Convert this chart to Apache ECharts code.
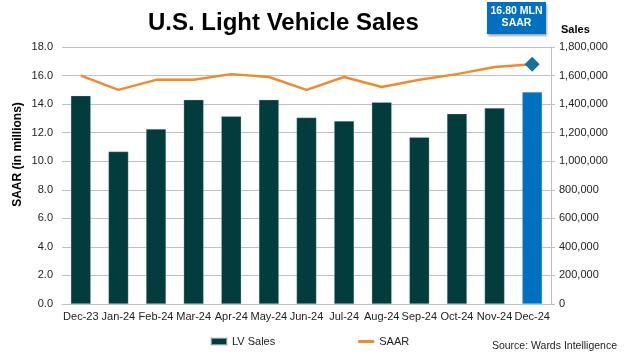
<!DOCTYPE html>
<html>
<head>
<meta charset="utf-8">
<script src="https://cdn.jsdelivr.net/npm/echarts@6/dist/echarts.min.js"></script>
<style>
html,body{margin:0;padding:0;background:#fff;}
#chart{width:637px;height:359px;}
</style>
</head>
<body>
<div id="chart"></div>
<script>
var categories = ['Dec-23','Jan-24','Feb-24','Mar-24','Apr-24','May-24','Jun-24','Jul-24','Aug-24','Sep-24','Oct-24','Nov-24','Dec-24'];
var lvSales = [1459000,1068000,1226000,1431000,1315000,1431000,1306000,1282000,1413000,1168000,1333000,1373000,1485000];
var saar = [16.0,15.0,15.7,15.7,16.1,15.9,15.0,15.9,15.2,15.7,16.1,16.6,16.8];
var leftTicks = [0,2,4,6,8,10,12,14,16,18];
var rightTicks = [0,200000,400000,600000,800000,1000000,1200000,1400000,1600000,1800000];

var FONT = '"Liberation Sans", Arial, sans-serif';
var BAR = '#033c3c';
var HIGHLIGHT = '#0070C0';
var ORANGE = '#f28a2a';
var DIAMOND = '#17719e';

var chart = echarts.init(document.getElementById('chart'));

var barData = lvSales.map(function (v, i) {
  return i === lvSales.length - 1 ? { value: v, itemStyle: { color: HIGHLIGHT } } : v;
});
var lineData = saar.map(function (v, i) {
  return i === saar.length - 1
    ? { value: v, symbol: 'diamond', symbolSize: 15, itemStyle: { color: DIAMOND } }
    : { value: v, symbol: 'none' };
});

chart.setOption({
  animation: false,
  backgroundColor: '#fff',
  textStyle: { fontFamily: FONT },
  title: [
    {
      text: 'U.S. Light Vehicle Sales',
      left: 143, top: 6,
      textStyle: { fontFamily: FONT, fontSize: 24, fontWeight: 'bold', color: '#000' }
    },
    {
      text: 'Source: Wards Intelligence',
      right: 15, top: 336,
      textStyle: { fontFamily: FONT, fontSize: 10.5, fontWeight: 'normal', color: '#222' }
    }
  ],
  graphic: [
    {
      type: 'rect',
      shape: { x: 487, y: 2, width: 59, height: 32 },
      style: { fill: HIGHLIGHT, shadowColor: 'rgba(0,0,0,0.35)', shadowBlur: 2, shadowOffsetX: 1, shadowOffsetY: 2 },
      z: 10
    },
    {
      type: 'text',
      x: 516.5, y: 11.5,
      style: { text: '16.80 MLN', fill: '#fff', font: 'bold 10.5px ' + FONT, textAlign: 'center', textVerticalAlign: 'middle' },
      z: 11
    },
    {
      type: 'text',
      x: 516.5, y: 23.5,
      style: { text: 'SAAR', fill: '#fff', font: 'bold 10.5px ' + FONT, textAlign: 'center', textVerticalAlign: 'middle' },
      z: 11
    }
  ],
  legend: {
    left: 205, top: 331,
    itemGap: 83,
    itemWidth: 16, itemHeight: 7,
    textStyle: { fontFamily: FONT, fontSize: 11, color: '#222' },
    data: [
      { name: 'LV Sales', icon: 'rect' },
      { name: 'SAAR', icon: 'path://M0,0L16,0L16,3L0,3Z' }
    ]
  },
  grid: { left: 62, right: 86, top: 47, bottom: 55 },
  xAxis: {
    type: 'category',
    data: categories,
    boundaryGap: true,
    axisLine: { show: true, lineStyle: { color: '#bfbfbf', width: 1 } },
    axisTick: { show: false },
    axisLabel: { fontFamily: FONT, fontSize: 11, color: '#222', margin: 7, interval: 0 }
  },
  yAxis: [
    {
      type: 'value',
      min: 0, max: 18, interval: 2,
      name: 'SAAR (in millions)',
      nameLocation: 'middle',
      nameGap: 38,
      nameMoveOverlap: false,
      nameRotate: 90,
      nameTextStyle: { fontFamily: FONT, fontSize: 12, fontWeight: 'bold', color: '#000', padding: [0, 0, 0, 42] },
      axisLine: { show: false },
      axisTick: { show: false },
      splitLine: { show: true, lineStyle: { color: '#bfbfbf', width: 1 } },
      axisLabel: {
        fontFamily: FONT, fontSize: 11, color: '#222', margin: 9,
        formatter: function (v) { return leftTicks.indexOf(v) >= 0 ? v.toFixed(1) : ''; }
      }
    },
    {
      type: 'value',
      min: 0, max: 1800000, interval: 200000,
      position: 'right',
      name: 'Sales',
      nameLocation: 'end',
      nameGap: 12,
      nameTextStyle: { fontFamily: FONT, fontSize: 11, fontWeight: 'bold', color: '#000', align: 'left', padding: [0, 0, 0, 10] },
      axisLine: { show: true, lineStyle: { color: '#bfbfbf', width: 1 } },
      axisTick: { show: true, length: 4, lineStyle: { color: '#bfbfbf' } },
      splitLine: { show: false },
      axisLabel: {
        fontFamily: FONT, fontSize: 11, color: '#222', margin: 8,
        formatter: function (v) { return rightTicks.indexOf(v) >= 0 ? v.toLocaleString('en-US') : ''; }
      }
    }
  ],
  series: [
    {
      name: 'LV Sales',
      type: 'bar',
      yAxisIndex: 1,
      data: barData,
      barWidth: 20,
      itemStyle: { color: BAR, borderColor: 'rgba(200,215,215,0.6)', borderWidth: 0.5 }
    },
    {
      name: 'SAAR',
      type: 'line',
      yAxisIndex: 0,
      data: lineData,
      symbol: 'none',
      lineStyle: { color: ORANGE, width: 2.5 },
      itemStyle: { color: ORANGE },
      z: 3
    }
  ]
});
</script>
</body>
</html>
